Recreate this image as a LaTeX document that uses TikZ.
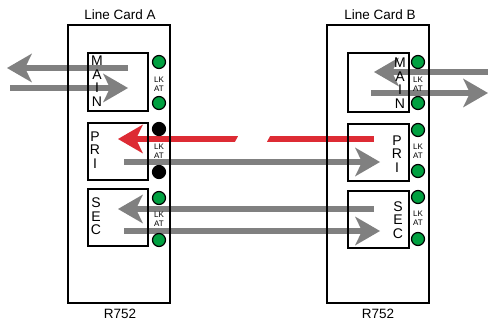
\documentclass[tikz,border=0pt]{standalone}
\usepackage{fontspec}
\setmainfont{Liberation Sans}
\usetikzlibrary{arrows.meta}
\definecolor{arrgray}{RGB}{128,128,128}
\definecolor{arrred}{RGB}{221,43,52}
\definecolor{ledgreen}{RGB}{0,160,64}
\begin{document}
\begin{tikzpicture}[x=1pt,y=-1pt,
  card/.style={draw, line width=2pt, minimum width=102pt, minimum height=278pt, inner sep=0pt},
  portbox/.style={draw, line width=2pt, inner sep=0pt},
  led/.style={circle, draw, line width=1.2pt, minimum size=13pt, inner sep=0pt},
  gled/.style={led, fill=ledgreen},
  bled/.style={led, fill=black},
  lkat/.style={align=center, inner sep=0pt, font=\fontsize{8}{9}\selectfont},
  letters/.style={align=center, inner sep=0pt, font=\fontsize{14}{13.5}\selectfont},
  title/.style={inner sep=0pt, font=\fontsize{13.5}{14}\selectfont},
  flow/.style={line width=6pt, -{Stealth[length=25pt,width=29pt,inset=7pt,line width=0pt]}},
  grayflow/.style={flow, arrgray},
  redflow/.style={flow, arrred}
]
\useasboundingbox (0,0) rectangle (488,321);

% free arrow ends
\coordinate (a1s) at (128,68);  \coordinate (a1e) at (7,68);
\coordinate (a2s) at (10,88);   \coordinate (a2e) at (128,88);
\coordinate (b1s) at (492,72);  \coordinate (b1e) at (374,72);
\coordinate (b2s) at (371,93);  \coordinate (b2e) at (488,93);
\coordinate (r1s) at (374,139); \coordinate (r1e) at (118,139);
\coordinate (p1s) at (124,162); \coordinate (p1e) at (380,162);
\coordinate (s1s) at (374,209); \coordinate (s1e) at (118,209);
\coordinate (s2s) at (124,231); \coordinate (s2e) at (380,231);

% arrows (beneath boxes)
\draw[grayflow] (a1s) -- (a1e);
\draw[grayflow] (a2s) -- (a2e);
\draw[grayflow] (b1s) -- (b1e);
\draw[grayflow] (b2s) -- (b2e);
\draw[redflow] (r1s) -- (r1e);
\fill[white] (239.4,134) -- (271.1,134) -- (265.6,144) -- (233.9,144) -- cycle;
\draw[grayflow] (p1s) -- (p1e);
\draw[grayflow] (s1s) -- (s1e);
\draw[grayflow] (s2s) -- (s2e);

% cards
\node[card] (cardA) at (119,164) {};
\node[card] (cardB) at (378,164) {};
\node[title] (labA) at (120,15) {Line Card A};
\node[title] (labB) at (380,15) {Line Card B};
\node[title] (rA) at (120,314) {R752};
\node[title] (rB) at (378,314) {R752};

% card A ports
\node[portbox, minimum width=60pt, minimum height=58pt] (mainA) at (118,82) {};
\node[portbox, minimum width=60pt, minimum height=57pt] (priA) at (118,151.5) {};
\node[portbox, minimum width=60pt, minimum height=57pt] (secA) at (118,217.5) {};
\node[letters] (tmainA) at (97,81) {M\\A\\I\\N};
\node[letters] (tpriA) at (95,150) {P\\R\\I};
\node[letters] (tsecA) at (96,216.5) {S\\E\\C};

\node[gled] (lA1) at (159,62) {};
\node[gled] (lA2) at (159,103) {};
\node[bled] (lA3) at (159,129) {};
\node[bled] (lA4) at (159,172) {};
\node[gled] (lA5) at (159,198) {};
\node[gled] (lA6) at (159,240) {};
\node[lkat] (kA1) at (159,84) {LK\\AT};
\node[lkat] (kA2) at (159,151) {LK\\AT};
\node[lkat] (kA3) at (159,219.5) {LK\\AT};

% card B ports
\node[portbox, minimum width=61pt, minimum height=59pt] (mainB) at (378.5,82.5) {};
\node[portbox, minimum width=61pt, minimum height=57pt] (priB) at (378.5,152.5) {};
\node[portbox, minimum width=61pt, minimum height=57pt] (secB) at (378.5,219.5) {};
\node[letters] (tmainB) at (400,83) {M\\A\\I\\N};
\node[letters] (tpriB) at (397,154) {P\\R\\I};
\node[letters] (tsecB) at (398,220) {S\\E\\C};

\node[gled] (lB1) at (418,62) {};
\node[gled] (lB2) at (418,103) {};
\node[gled] (lB3) at (418,130) {};
\node[gled] (lB4) at (418,171) {};
\node[gled] (lB5) at (418,197) {};
\node[gled] (lB6) at (418,239) {};
\node[lkat] (kB1) at (418,84) {LK\\AT};
\node[lkat] (kB2) at (418,151) {LK\\AT};
\node[lkat] (kB3) at (418,218.5) {LK\\AT};
\end{tikzpicture}
\end{document}
